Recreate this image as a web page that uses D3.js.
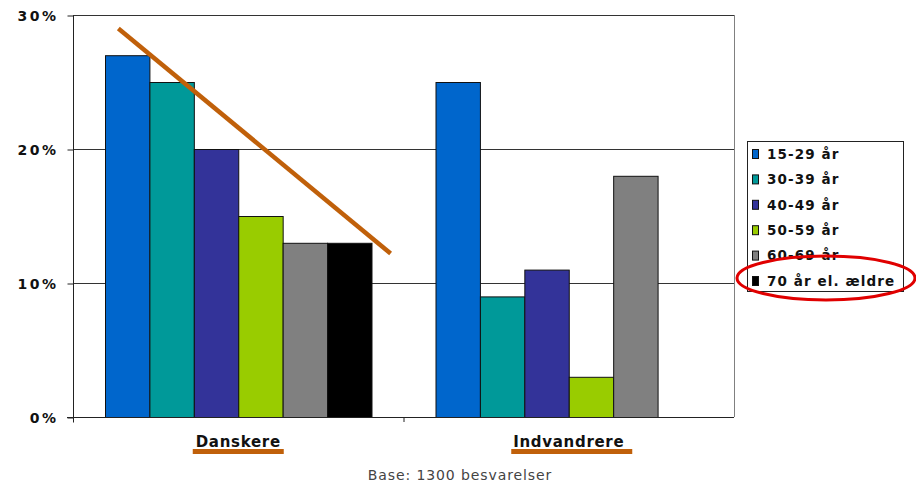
<!DOCTYPE html>
<html><head><meta charset="utf-8">
<script src="https://cdn.jsdelivr.net/npm/d3@7/dist/d3.min.js"></script>
<style>
html,body{margin:0;padding:0;background:#fff;}
svg{display:block;}
</style>
</head><body>
<svg id="c" width="916" height="484"></svg>
<script>
const categories = ["Danskere", "Indvandrere"];
const seriesNames = ["15-29 år", "30-39 år", "40-49 år", "50-59 år", "60-69 år", "70 år el. ældre"];
const danskere = [0.27, 0.25, 0.20, 0.15, 0.13, 0.13];
const indvandrere = [0.25, 0.09, 0.11, 0.03, 0.18, 0];
const yTicks = [0, 0.1, 0.2, 0.3];
const colors = ["#0066cc", "#009999", "#333399", "#99cc00", "#808080", "#000000"];
// trend annotation: [position in bar units within Danskere group, value]
const trendStart = [0.3, 0.29];
const trendEnd = [6.43, 0.122];
const footnote = "Base: 1300 besvarelser";

const values = [danskere, indvandrere];
const svg = d3.select("#c");
const L = 73, R = 734, T = 15, B = 417;

const x0 = d3.scaleBand().domain(categories).range([L, R]).padding(0);
const bw = x0.bandwidth();
const gpad = 32;
const x1 = d3.scaleBand().domain(seriesNames).range([gpad, bw - gpad]).padding(0);
const y = d3.scaleLinear().domain([0, 0.3]).range([B, T]);

// gridlines
svg.append("g").selectAll("line").data(yTicks.filter(d => d > 0)).join("line")
  .attr("x1", L).attr("x2", R)
  .attr("y1", d => Math.round(y(d)) + 0.5).attr("y2", d => Math.round(y(d)) + 0.5)
  .attr("stroke", "#333").attr("stroke-width", 1);
// right border
svg.append("line").attr("x1", R + 0.5).attr("x2", R + 0.5).attr("y1", T).attr("y2", B)
  .attr("stroke", "#808080").attr("stroke-width", 1);

// bars
const groups = svg.append("g").selectAll("g").data(categories).join("g")
  .attr("transform", d => `translate(${x0(d)},0)`);
groups.selectAll("rect")
  .data((c, ci) => seriesNames.map((s, si) => ({ s, si, v: values[ci][si] })).filter(d => d.v > 0))
  .join("rect")
  .attr("x", d => x1(d.s) + 0.5)
  .attr("y", d => y(d.v) + 0.5)
  .attr("width", x1.bandwidth())
  .attr("height", d => B - y(d.v))
  .attr("fill", d => colors[d.si])
  .attr("stroke", "#111").attr("stroke-width", 1);

// y axis
const yAxis = d3.axisLeft(y).tickValues(yTicks).tickFormat(d3.format(".0%")).tickSize(6).tickPadding(8);
const gy = svg.append("g").attr("transform", `translate(${L + 0.5},0.5)`).call(yAxis);
gy.select(".domain").attr("stroke", "#222").attr("d", `M0,${T}V${B + 5}`);
gy.selectAll(".tick line").attr("stroke", "#222");
gy.selectAll(".tick text").attr("font-family", "DejaVu Sans, Verdana, sans-serif")
  .attr("font-weight", "bold").attr("font-size", 14).attr("fill", "#111")
  .attr("letter-spacing", 2.5).attr("dy", "0.35em").attr("x", -15);

// x axis
svg.append("line").attr("x1", L - 6).attr("x2", R).attr("y1", B + 0.5).attr("y2", B + 0.5)
  .attr("stroke", "#222");
svg.append("line").attr("x1", x0(categories[1]) + 0.5).attr("x2", x0(categories[1]) + 0.5)
  .attr("y1", B).attr("y2", B + 5).attr("stroke", "#222");

// category labels with underline
const lab = svg.append("g").selectAll("g").data(categories).join("g");
lab.append("text")
  .attr("x", d => x0(d) + bw / 2).attr("y", 447)
  .attr("text-anchor", "middle")
  .attr("font-family", "DejaVu Sans, Verdana, sans-serif").attr("font-weight", "bold")
  .attr("font-size", 15).attr("fill", "#111").attr("letter-spacing", 0.7)
  .text(d => d);
const ulW = [91, 121];
lab.append("rect")
  .attr("x", (d, i) => x0(d) + bw / 2 - ulW[i] / 2 + (i === 0 ? 0 : 3))
  .attr("y", 449).attr("width", (d, i) => ulW[i]).attr("height", 5)
  .attr("fill", "#c0600a");

// footnote
svg.append("text").attr("x", 460).attr("y", 480).attr("text-anchor", "middle")
  .attr("font-family", "DejaVu Sans, Verdana, sans-serif").attr("font-size", 14)
  .attr("fill", "#444").attr("letter-spacing", 0.9).text(footnote);

// trend line
const unit = x1.step();
const gx = x0(categories[0]) + gpad;
svg.append("line")
  .attr("x1", gx + trendStart[0] * unit).attr("y1", y(trendStart[1]))
  .attr("x2", gx + trendEnd[0] * unit).attr("y2", y(trendEnd[1]))
  .attr("stroke", "#c0600a").attr("stroke-width", 4.5);

// legend
const lg = svg.append("g").attr("transform", "translate(747,141)");
lg.append("rect").attr("x", 0.5).attr("y", 0.5).attr("width", 156).attr("height", 150)
  .attr("fill", "#fff").attr("stroke", "#222");
const items = lg.selectAll("g").data(seriesNames).join("g")
  .attr("transform", (d, i) => `translate(0,${13 + i * 25.4})`);
items.append("rect").attr("x", 5.5).attr("y", -4.5).attr("width", 6).attr("height", 9)
  .attr("fill", (d, i) => colors[i]).attr("stroke", "#111");
items.append("text").attr("x", 20).attr("y", 0).attr("dy", "0.35em")
  .attr("font-family", "DejaVu Sans, Verdana, sans-serif").attr("font-weight", "bold")
  .attr("font-size", 13.5).attr("fill", "#111").attr("letter-spacing", 1.1)
  .text(d => d);

// red ellipse highlight
svg.append("ellipse").attr("cx", 826).attr("cy", 278).attr("rx", 89).attr("ry", 22)
  .attr("fill", "none").attr("stroke", "#e00000").attr("stroke-width", 3);
</script>
</body></html>
